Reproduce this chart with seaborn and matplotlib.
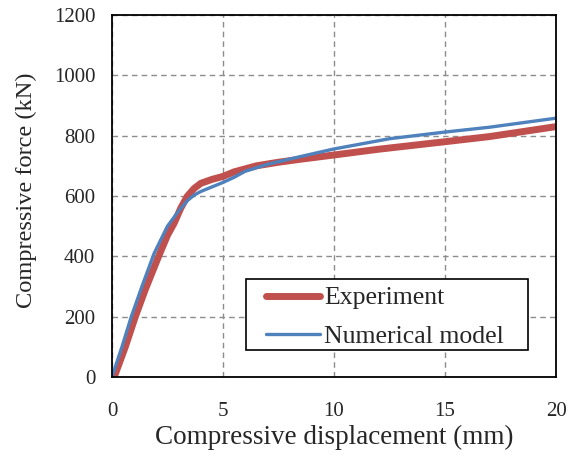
import matplotlib
matplotlib.use("Agg")
import matplotlib.pyplot as plt
from matplotlib.patches import Rectangle
import seaborn as sns
import pandas as pd

exp_disp = [0.1, 0.6, 1.05, 1.5, 2.1, 2.5, 2.8, 3.1, 3.4, 3.7, 4.0, 4.5, 5.0, 5.5, 6.5, 7.5, 8.5, 10, 12, 15, 17, 20]
exp_force = [0, 100, 200, 290, 400, 470, 510, 560, 600, 625, 642, 655, 665, 680, 700, 712, 722, 736, 755, 780, 797, 830]

num_disp = [0, 0.45, 0.87, 1.35, 1.9, 2.5, 3.0, 3.4, 3.7, 4.0, 4.5, 5.0, 5.5, 6.0, 7, 8.5, 10, 12.5, 15, 17, 20]
num_force = [0, 100, 200, 300, 410, 500, 550, 585, 603, 615, 630, 645, 662, 682, 705, 731, 756, 790, 812, 828, 858]

x_ticks = [0, 5, 10, 15, 20]
y_ticks = [0, 200, 400, 600, 800, 1000, 1200]

sns.set_style("white")
plt.rcParams['font.family'] = ['Liberation Serif', 'DejaVu Serif']

df = pd.concat([
    pd.DataFrame({"disp": exp_disp, "force": exp_force, "series": "Experiment"}),
    pd.DataFrame({"disp": num_disp, "force": num_force, "series": "Numerical model"}),
])

fig = plt.figure(figsize=(5.76, 4.55), dpi=100)
ax = fig.add_axes([0.1944, 0.1714, 0.7709, 0.7956])

ax.grid(True, color="#8c8c8c", linestyle=(0, (4, 3)), linewidth=1.0)
ax.set_axisbelow(True)

sns.lineplot(data=df[df.series == "Experiment"], x="disp", y="force", ax=ax,
             color="#C0504D", linewidth=5.0, label="Experiment", sort=False,
             solid_capstyle="round")
sns.lineplot(data=df[df.series == "Numerical model"], x="disp", y="force", ax=ax,
             color="#4F81BD", linewidth=2.4, label="Numerical model", sort=False,
             solid_capstyle="round")

ax.set_xlim(0, 20)
ax.set_ylim(0, 1200)
ax.set_xticks(x_ticks)
ax.set_yticks(y_ticks)
ax.tick_params(axis="both", labelsize=15, length=0)
ax.tick_params(axis="x", pad=18)
ax.tick_params(axis="y", pad=12)
ax.set_xlabel("Compressive displacement (mm)", fontsize=19.5, labelpad=3)
ax.set_ylabel("Compressive force (kN)", fontsize=17.6, labelpad=12, y=0.517)

for s in ax.spines.values():
    s.set_color("black")
    s.set_linewidth(1.3)

# legend frame
ax.add_patch(Rectangle((0.302, 0.075), 0.635, 0.196, transform=ax.transAxes,
                       facecolor="white", edgecolor="black", linewidth=1.2, zorder=4))
leg = ax.legend(loc="upper left", bbox_to_anchor=(0.347, 0.250),
                fontsize=18.5, frameon=False, handlelength=2.1, borderaxespad=0,
                labelspacing=0.6, handletextpad=0.15, borderpad=0)
leg.set_zorder(5)

fig.savefig("out.png", dpi=100)
